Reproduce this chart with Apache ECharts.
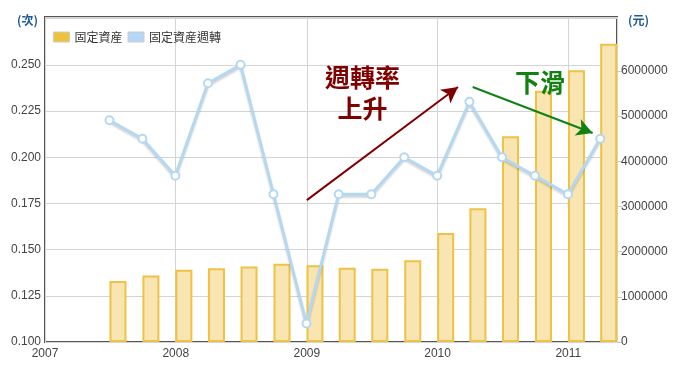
<!DOCTYPE html>
<html>
<head>
<meta charset="utf-8">
<script src="https://cdn.jsdelivr.net/npm/echarts@6/dist/echarts.min.js"></script>
<style>
html,body{margin:0;padding:0;background:#fff;}
#c{width:682px;height:366px;}
</style>
</head>
<body>
<div id="c"></div>
<script>
// Quarter-end dates
var dates = ['2007-06-30','2007-09-30','2007-12-31','2008-03-31','2008-06-30','2008-09-30','2008-12-31','2009-03-31',
             '2009-06-30','2009-09-30','2009-12-31','2010-03-31','2010-06-30','2010-09-30','2010-12-31','2011-03-31'];
// 固定資産週轉 (次)
var turnover = [0.22,0.21,0.19,0.24,0.25,0.18,0.11,0.18,0.18,0.20,0.19,0.23,0.20,0.19,0.18,0.21];
// 固定資産 (元)
var assets = [1350000,1470000,1600000,1630000,1670000,1730000,1700000,1640000,
              1620000,1810000,2410000,2960000,4550000,5560000,6010000,6600000];
// tick values
var leftTicks = [0.100,0.125,0.150,0.175,0.200,0.225,0.250];
var rightTicks = [0,1000000,2000000,3000000,4000000,5000000,6000000];
var seriesNames = ['固定資産','固定資産週轉'];
var axisNames = ['(次)','(元)'];
var upText = '週轉率\n上升';
var downText = '下滑';
var upArrow = [['2009-01-01',0.1768],['2010-02-27',0.238]];
var downArrow = [['2010-04-09',0.238],['2011-03-10',0.2131]];
var xRange = [new Date(2007,0,1).getTime(), new Date(2011,4,17).getTime()];

var chart = echarts.init(document.getElementById('c'));
var txt = '#444';
var font = 'Liberation Sans, Arial, sans-serif';
var cjk = '"Noto Sans CJK TC", sans-serif';
var year = 365*24*3600*1000;
chart.setOption({
  animation:false,
  textStyle:{fontFamily:font},
  grid:{left:45,right:65,top:17,bottom:24,show:true,borderColor:'#555',borderWidth:2,backgroundColor:'transparent'},
  legend:{
    left:48, top:26, itemWidth:16, itemHeight:10, itemGap:5, selectedMode:false,
    textStyle:{color:'#333',fontSize:12,fontFamily:cjk},
    data:[
      {name:seriesNames[0],icon:'rect',itemStyle:{color:'#EFC23C',borderColor:'#ccc',borderWidth:1}},
      {name:seriesNames[1],icon:'rect',itemStyle:{color:'#B3D7F5',borderColor:'#ccc',borderWidth:1}}
    ]
  },
  xAxis:{
    type:'time', min:xRange[0], max:xRange[1],
    minInterval:year, maxInterval:year,
    axisLine:{show:false}, axisTick:{show:false},
    axisLabel:{formatter:'{yyyy}',color:txt,fontSize:12,margin:6,showMinLabel:true,hideOverlap:false},
    splitLine:{show:true,lineStyle:{color:'#d4d4d4',width:1}}
  },
  yAxis:[
    {type:'value', min:0.1, max:0.2759, interval:0.025, position:'left',
     name:axisNames[0], nameLocation:'end', nameGap:3,
     nameTextStyle:{color:'#1F5A96',fontWeight:'bold',fontSize:12,align:'right',verticalAlign:'top',padding:[0,7,0,0],fontFamily:cjk},
     axisLine:{show:false}, axisTick:{show:false},
     axisLabel:{color:txt,fontSize:12,margin:4,customValues:leftTicks,formatter:function(v){return v.toFixed(3);}},
     splitLine:{show:true,lineStyle:{color:'#d4d4d4',width:1}}},
    {type:'value', min:0, max:7190000, interval:1000000, position:'right',
     name:axisNames[1], nameLocation:'end', nameGap:3,
     nameTextStyle:{color:'#1F5A96',fontWeight:'bold',fontSize:12,align:'left',verticalAlign:'top',padding:[0,0,0,11],fontFamily:cjk},
     axisLine:{show:false}, axisTick:{show:true,length:5,customValues:rightTicks,lineStyle:{color:'#ccc'}},
     axisLabel:{color:txt,fontSize:12,margin:4,customValues:rightTicks,formatter:function(v){return String(v);}},
     splitLine:{show:false}}
  ],
  series:[
    {name:'_pad', type:'bar', yAxisIndex:1, barWidth:17, barGap:'0%',
     data:dates.map(function(d){return [d,0];}),
     itemStyle:{opacity:0}, silent:true, z:1},
    {name:seriesNames[0], type:'bar', yAxisIndex:1, barWidth:17, barGap:'0%',
     data:dates.map(function(d,i){return [d,assets[i]];}),
     itemStyle:{color:'#F8E5B1',borderColor:'#EEC245',borderWidth:2}, z:2},
    {name:seriesNames[1], type:'line', yAxisIndex:0,
     data:dates.map(function(d,i){return [d,turnover[i]];}),
     symbol:'circle', symbolSize:8, showAllSymbol:true,
     itemStyle:{color:'#ffffff',borderColor:'#B5D8F2',borderWidth:2},
     lineStyle:{color:'#B5D8F2',width:3,shadowColor:'rgba(0,0,0,0.18)',shadowBlur:2,shadowOffsetY:2},
     z:5,
     markLine:{
       silent:true, symbol:['none','arrow'], symbolSize:[13,16],
       label:{show:false},
       data:[
         [{coord:upArrow[0],lineStyle:{color:'#800000',width:2,type:'solid'},itemStyle:{color:'#800000'}},{coord:upArrow[1]}],
         [{coord:downArrow[0],lineStyle:{color:'#118211',width:2,type:'solid'},itemStyle:{color:'#118211'}},{coord:downArrow[1]}]
       ]
     }}
  ],
  graphic:[
    {type:'text', left:325, top:62, z:100, style:{text:upText, fill:'#800000', font:'bold 25px '+cjk, textAlign:'center', lineHeight:31}},
    {type:'text', left:515, top:70, z:100, style:{text:downText, fill:'#118211', font:'bold 25px '+cjk}}
  ]
});

// Keep the time axis extent exactly at xRange (newer ECharts pads it for bars)
(function(){
  var cur = [xRange[0], xRange[1]];
  for (var k=0;k<6;k++){
    var ax = chart.getModel().getComponent('xAxis',0).axis;
    var ext = ax.scale.getExtent();
    var d0 = xRange[0]-ext[0], d1 = xRange[1]-ext[1];
    if (Math.abs(d0)<3600000 && Math.abs(d1)<3600000) break;
    cur[0]+=d0; cur[1]+=d1;
    chart.setOption({xAxis:{min:cur[0],max:cur[1]}});
  }
})();
</script>
</body>
</html>
